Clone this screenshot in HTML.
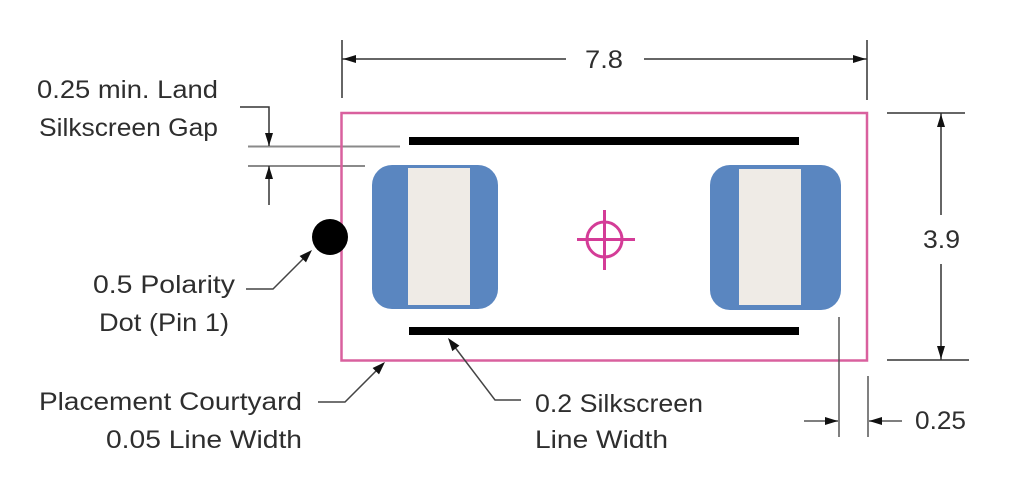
<!DOCTYPE html>
<html>
<head>
<meta charset="utf-8">
<style>
html,body{margin:0;padding:0;background:#fff;}
svg{display:block;}
text{font-family:"Liberation Sans",Arial,sans-serif;font-size:25px;fill:#2e2e2e;}
</style>
</head>
<body>
<svg width="1026" height="498" viewBox="0 0 1026 498" xmlns="http://www.w3.org/2000/svg">
<rect width="1026" height="498" fill="#fff"/>

<!-- Top dimension 7.8 -->
<g stroke="#333" stroke-width="1.5" fill="none">
  <line x1="342" y1="40" x2="342" y2="98"/>
  <line x1="867" y1="40" x2="867" y2="100"/>
  <line x1="342" y1="59" x2="566" y2="59"/>
  <line x1="644" y1="59" x2="867" y2="59"/>
</g>
<polygon points="343,59 356,55 356,63" fill="#111"/>
<polygon points="866,59 853,55 853,63" fill="#111"/>
<text x="585" y="68" textLength="38" lengthAdjust="spacingAndGlyphs" font-size="26">7.8</text>

<!-- Gap lines -->
<g stroke="#8a8a8a" stroke-width="2" fill="none">
  <line x1="248" y1="146.5" x2="400" y2="146.5"/>
  <line x1="248" y1="166" x2="365" y2="166"/>
</g>
<g stroke="#333" stroke-width="1.5" fill="none">
  <polyline points="240,107 269,107 269,146"/>
  <line x1="269" y1="166" x2="269" y2="205"/>
</g>
<polygon points="269,146 265,133 273,133" fill="#111"/>
<polygon points="269,166 265,179 273,179" fill="#111"/>

<!-- Courtyard -->
<rect x="341.5" y="113" width="525.5" height="247.5" fill="none" stroke="#d9609e" stroke-width="2.5"/>

<!-- Silkscreen bars -->
<rect x="409" y="137" width="390" height="8" fill="#000"/>
<rect x="409" y="327" width="390" height="8" fill="#000"/>

<!-- Pads -->
<rect x="372" y="165" width="126" height="144" rx="20" ry="20" fill="#5a86c0"/>
<rect x="408" y="168" width="62" height="137" fill="#efebe6"/>
<rect x="710" y="165" width="131" height="145" rx="20" ry="20" fill="#5a86c0"/>
<rect x="739" y="169" width="62" height="136" fill="#efebe6"/>

<!-- Crosshair -->
<g stroke="#d43c97" stroke-width="3" fill="none">
  <circle cx="604.5" cy="239.5" r="17.5"/>
  <line x1="577" y1="239.5" x2="635" y2="239.5"/>
  <line x1="604.5" y1="210" x2="604.5" y2="270"/>
</g>

<!-- Polarity dot -->
<circle cx="330" cy="237" r="18" fill="#000"/>

<!-- Right dimension 3.9 -->
<g stroke="#333" stroke-width="1.5" fill="none">
  <line x1="887" y1="113" x2="965" y2="113"/>
  <line x1="887" y1="360" x2="969" y2="360"/>
  <line x1="941" y1="113" x2="941" y2="215"/>
  <line x1="941" y1="264" x2="941" y2="360"/>
</g>
<polygon points="941,114 937,127 945,127" fill="#111"/>
<polygon points="941,359 937,346 945,346" fill="#111"/>
<text x="923" y="248" textLength="37" lengthAdjust="spacingAndGlyphs">3.9</text>

<!-- Bottom dimension 0.25 -->
<g stroke="#555" stroke-width="1.5" fill="none">
  <line x1="839" y1="317" x2="839" y2="437"/>
  <line x1="868" y1="376" x2="868" y2="437"/>
  <line x1="804" y1="421" x2="838" y2="421"/>
  <line x1="869" y1="421" x2="902" y2="421"/>
</g>
<polygon points="838,421 825,417 825,425" fill="#111"/>
<polygon points="869,421 882,417 882,425" fill="#111"/>
<text x="915" y="429" textLength="51" lengthAdjust="spacingAndGlyphs">0.25</text>

<!-- Leaders -->
<g stroke="#444" stroke-width="1.5" fill="none">
  <polyline points="246,289 273,289 306,256"/>
  <polyline points="318,402 345,402 379,368"/>
  <polyline points="521,400 495,400 454,346"/>
</g>
<polygon points="312,250 306,262.4 299.6,256" fill="#111"/>
<polygon points="385,362 379,374.4 372.6,368" fill="#111"/>
<polygon points="448,338 459.4,345.6 452.3,351.1" fill="#111"/>

<!-- Labels -->
<text x="37" y="98" textLength="181" lengthAdjust="spacingAndGlyphs">0.25 min. Land</text>
<text x="39" y="136" textLength="179" lengthAdjust="spacingAndGlyphs">Silkscreen Gap</text>
<text x="93" y="293" textLength="142" lengthAdjust="spacingAndGlyphs">0.5 Polarity</text>
<text x="99" y="331" textLength="130" lengthAdjust="spacingAndGlyphs">Dot (Pin 1)</text>
<text x="39" y="410" textLength="263" lengthAdjust="spacingAndGlyphs">Placement Courtyard</text>
<text x="106" y="448" textLength="196" lengthAdjust="spacingAndGlyphs">0.05 Line Width</text>
<text x="535" y="412" textLength="168" lengthAdjust="spacingAndGlyphs">0.2 Silkscreen</text>
<text x="535" y="448" textLength="133" lengthAdjust="spacingAndGlyphs">Line Width</text>
</svg>
</body>
</html>
